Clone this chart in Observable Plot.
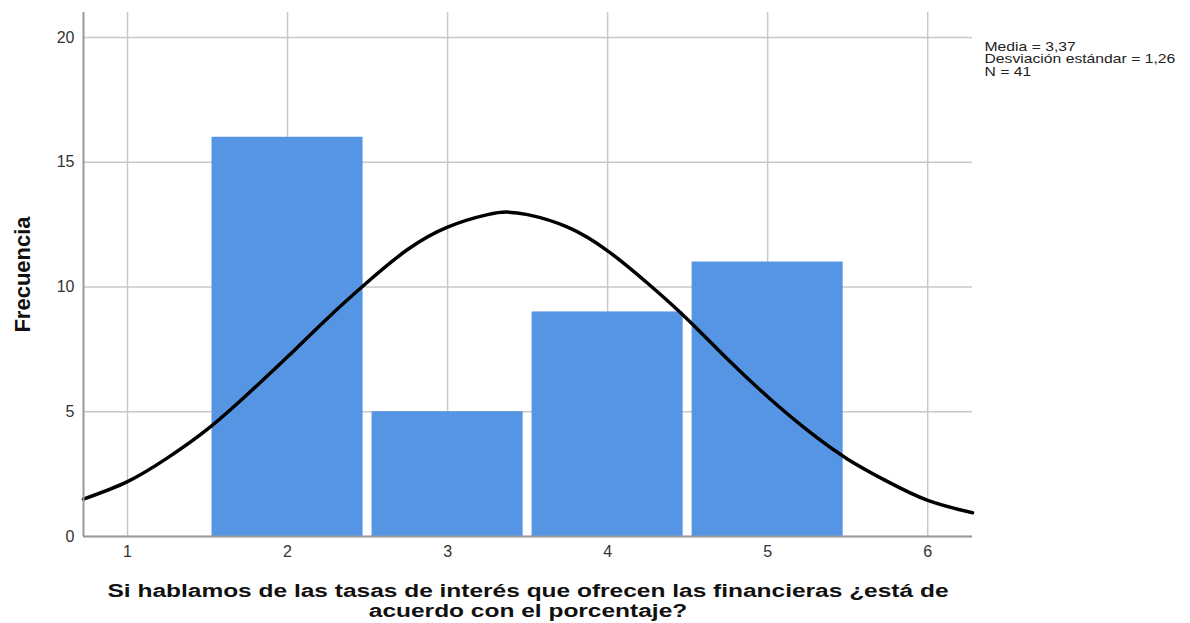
<!DOCTYPE html>
<html>
<head>
<meta charset="utf-8">
<script src="https://cdn.jsdelivr.net/npm/d3@7"></script>
<script src="https://cdn.jsdelivr.net/npm/@observablehq/plot@0.6"></script>
<style>
  html, body { margin: 0; padding: 0; background: #fff; }
  #chart { width: 1190px; height: 623px; }
</style>
</head>
<body>
<div id="chart"></div>
<script>
// Histogram categories and frequencies
const categories = [2, 3, 4, 5];
const frequencies = [16, 5, 9, 11];

// Fitted normal curve
const curveX = [0.725, 1.0, 1.25, 1.5, 1.75, 2.0, 2.25, 2.5, 2.75, 3.0, 3.25, 3.37, 3.5, 3.75, 4.0, 4.25, 4.5, 4.75, 5.0, 5.25, 5.5, 5.75, 6.0, 6.28];
const curveY = [1.5, 2.2, 3.15, 4.3, 5.7, 7.2, 8.75, 10.2, 11.5, 12.4, 12.9, 13.0, 12.9, 12.4, 11.45, 10.15, 8.7, 7.1, 5.6, 4.25, 3.1, 2.2, 1.45, 0.95];

// Tick labels
const xTicks = [1, 2, 3, 4, 5, 6];
const yTicks = [0, 5, 10, 15, 20];

const stats = ["Media = 3,37", "Desviación estándar = 1,26", "N = 41"];
const xTitle = ["Si hablamos de las tasas de interés que ofrecen las financieras ¿está de", "acuerdo con el porcentaje?"];
const yTitle = "Frecuencia";

const bars = categories.map((c, i) => ({x1: c - 0.5, x2: c + 0.5, y: frequencies[i]}));
const curve = curveX.map((x, i) => ({x, y: curveY[i]}));

const font = "'Liberation Sans', Arial, sans-serif";

const chart = Plot.plot({
  width: 1190,
  height: 623,
  marginLeft: 83,
  marginRight: 218,
  marginTop: 12,
  marginBottom: 87,
  style: {fontFamily: font, background: "#fff", overflow: "visible"},
  x: {domain: [0.725, 6.28]},
  y: {domain: [0, 21]},
  marks: [
    Plot.gridX(xTicks, {stroke: "#c8c8c8", strokeOpacity: 1, strokeWidth: 1.5}),
    Plot.gridY(yTicks, {stroke: "#c8c8c8", strokeOpacity: 1, strokeWidth: 1.5}),
    Plot.rectY(bars, {x1: "x1", x2: "x2", y: "y", fill: "#5595e3", insetLeft: 4.5, insetRight: 4.5}),
    Plot.line(curve, {x: "x", y: "y", stroke: "#000", strokeWidth: 3.5, curve: "natural"}),
    Plot.ruleY([0], {stroke: "#999", strokeWidth: 2}),
    Plot.ruleX([0.725], {stroke: "#999", strokeWidth: 2}),
    Plot.axisY(yTicks, {tickSize: 0, tickPadding: 9, label: null, fontSize: 16, color: "#333", tickFormat: d => d}),
    Plot.axisX(xTicks, {tickSize: 0, tickPadding: 9, label: null, fontSize: 16, color: "#333", tickFormat: d => d}),
    Plot.text([stats.join("\n")], {frameAnchor: "top-right", dx: 12, dy: 30, textAnchor: "start", lineAnchor: "top", lineHeight: 0.94, fontSize: 13, fill: "#222"}),
    Plot.text([yTitle], {frameAnchor: "left", dx: -61, rotate: -90, textAnchor: "middle", fontSize: 22, fontWeight: "bold", fill: "#111"}),
    Plot.text([xTitle.join("\n")], {frameAnchor: "bottom", dy: 46, lineAnchor: "top", lineHeight: 1.05, fontSize: 19, fontWeight: "bold", fill: "#111"})
  ]
});
document.getElementById("chart").appendChild(chart);

// Horizontal stretch of the text blocks, as in the reference picture
chart.querySelectorAll("text").forEach(t => {
  const s = t.textContent;
  let k = 0;
  if (s.startsWith("Media")) k = 1.21;
  else if (s.startsWith("Si hablamos")) k = 1.29;
  if (k) {
    const tr = t.getAttribute("transform") || "";
    t.setAttribute("transform", (tr + ` scale(${k},1)`).trim());
  }
});
</script>
</body>
</html>
